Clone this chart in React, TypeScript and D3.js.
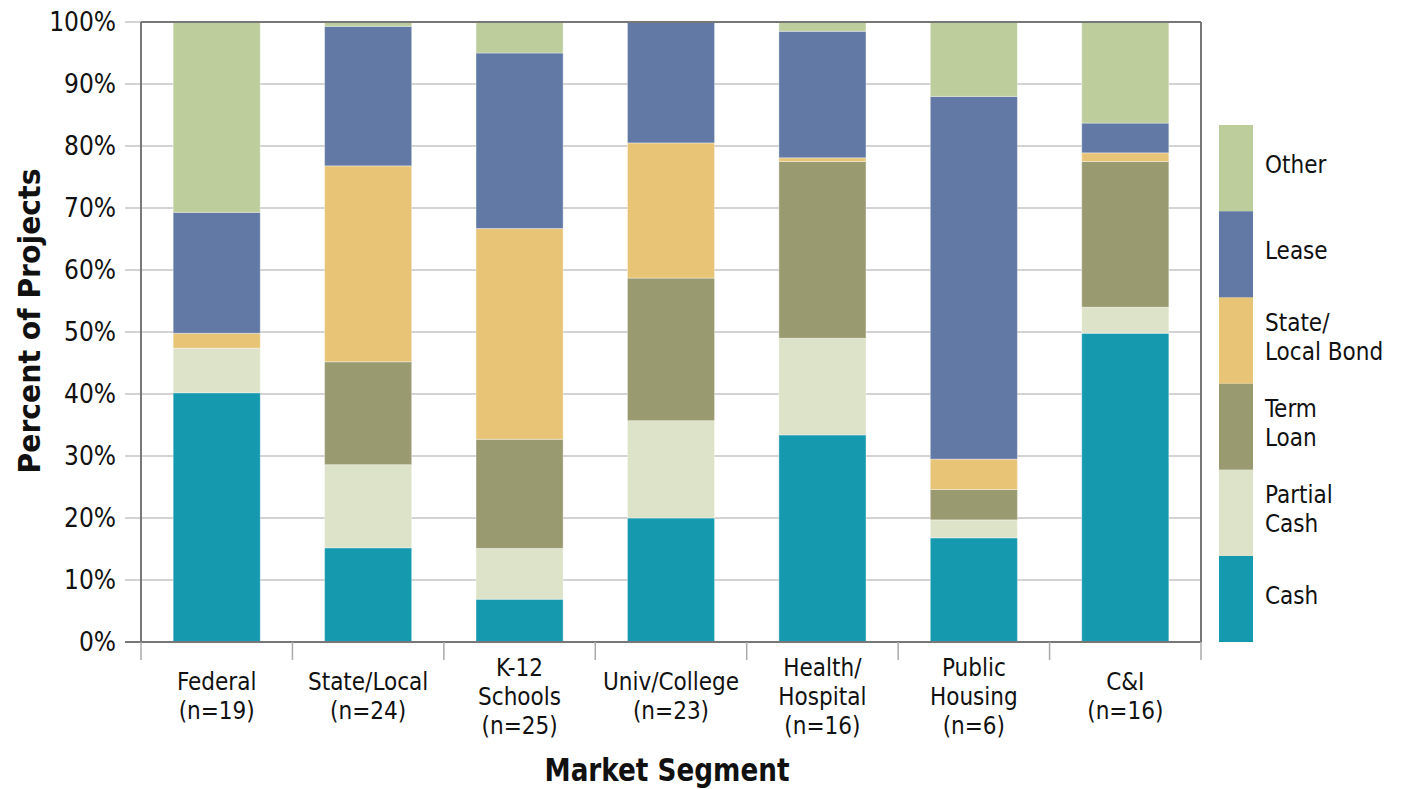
import React from "react";
import * as d3 from "d3";

const categories = ["Federal", "State/Local", "K-12 Schools", "Univ/College", "Health/ Hospital", "Public Housing", "C&I"];
const categoryLines = [
  ["Federal", "(n=19)"],
  ["State/Local", "(n=24)"],
  ["K-12", "Schools", "(n=25)"],
  ["Univ/College", "(n=23)"],
  ["Health/", "Hospital", "(n=16)"],
  ["Public", "Housing", "(n=6)"],
  ["C&I", "(n=16)"],
];
const seriesNames = ["Cash", "Partial Cash", "Term Loan", "State/Local Bond", "Lease", "Other"];
const seriesLabelLines = [["Cash"], ["Partial", "Cash"], ["Term", "Loan"], ["State/", "Local Bond"], ["Lease"], ["Other"]];
const seriesColors = ["#1599AE", "#DDE3C8", "#999A70", "#E8C477", "#6279A5", "#BDCE9C"];

const cash = [40.2, 15.2, 6.9, 20.0, 33.4, 16.8, 49.8];
const partialCash = [7.2, 13.4, 8.2, 15.7, 15.6, 2.9, 4.2];
const termLoan = [0, 16.6, 17.6, 23.0, 28.5, 4.9, 23.5];
const stateLocalBond = [2.4, 31.6, 34.0, 21.8, 0.6, 4.9, 1.4];
const lease = [19.5, 22.5, 28.3, 19.5, 20.4, 58.5, 4.8];
const other = [30.7, 0.8, 5.0, 0, 1.5, 12.0, 16.3];

const yTicks = [0, 10, 20, 30, 40, 50, 60, 70, 80, 90, 100];

const W = 1403, H = 789;
const left = 141, right = 1201, top = 22, bottom = 642;
const FONT = "'Liberation Sans Narrow', 'DejaVu Sans Condensed', 'Roboto', sans-serif";

export default function App() {
  const seriesArrays = [cash, partialCash, termLoan, stateLocalBond, lease, other];
  const rows = categories.map((c, i) => {
    const r: any = { cat: c };
    seriesNames.forEach((s, j) => (r[s] = seriesArrays[j][i]));
    return r;
  });
  const stack = d3.stack().keys(seriesNames)(rows as any);
  const x = d3.scaleBand().domain(categories).range([left, right]).paddingInner(0.425).paddingOuter(0.2125);
  const y = d3.scaleLinear().domain([0, 100]).range([bottom, top]);
  const step = x.step();
  const boundaries = d3.range(categories.length + 1).map((i) => left + i * step);

  const legX = 1219, legW = 34, legTop = 125, legBottom = 642;
  const legH = (legBottom - legTop) / seriesNames.length;

  return (
    <svg width={W} height={H} style={{ position: "absolute", left: 0, top: 0 }} fontFamily={FONT}>
      <rect width={W} height={H} fill="#fff" />
      {yTicks.map((t) => (
        <g key={t}>
          <line x1={125} x2={right} y1={y(t)} y2={y(t)} stroke="#c4c4c4" strokeWidth={1.5} />
          <text x={116} y={y(t)} dy="0.36em" textAnchor="end" fontSize={26} fill="#111">{t}%</text>
        </g>
      ))}
      {stack.map((s, j) => (
        <g key={j} fill={seriesColors[j]}>
          {s.map((d: any, i) => {
            const h = y(d[0]) - y(d[1]);
            if (h <= 0) return null;
            return (
              <rect key={i} x={x(categories[i])} width={x.bandwidth()} y={y(d[1])} height={h}
                stroke="#ffffff" strokeOpacity={0.35} strokeWidth={1} />
            );
          })}
        </g>
      ))}
      <line x1={left} x2={left} y1={top} y2={bottom} stroke="#777" strokeWidth={2} />
      <line x1={left} x2={right} y1={top} y2={top} stroke="#777" strokeWidth={2} />
      <line x1={right} x2={right} y1={top} y2={bottom} stroke="#777" strokeWidth={2} />
      <line x1={125} x2={right} y1={bottom} y2={bottom} stroke="#777" strokeWidth={2} />
      {boundaries.map((b, i) => (
        <line key={i} x1={b} x2={b} y1={bottom} y2={bottom + 18} stroke="#aaa" strokeWidth={1.5} />
      ))}
      {categoryLines.map((lines, i) => (
        <text key={i} x={(x(categories[i]) as number) + x.bandwidth() / 2} y={690 - (lines.length - 2) * 14} textAnchor="middle" fontSize={24} fill="#111">
          {lines.map((l, k) => (
            <tspan key={k} x={(x(categories[i]) as number) + x.bandwidth() / 2} dy={k === 0 ? 0 : 29}>{l}</tspan>
          ))}
        </text>
      ))}
      <text x={667} y={781} textAnchor="middle" fontSize={32} fontWeight="bold" fill="#111" textLength={245} lengthAdjust="spacingAndGlyphs">Market Segment</text>
      <text transform={`translate(40,${321}) rotate(-90)`} textAnchor="middle" fontSize={31} fontWeight="bold" fill="#111" textLength={305} lengthAdjust="spacingAndGlyphs">Percent of Projects</text>
      {seriesNames.map((s, j) => {
        const yTop = legBottom - (j + 1) * legH;
        const lines = seriesLabelLines[j];
        const cy = yTop + legH / 2 - 4;
        return (
          <g key={s}>
            <rect x={legX} y={yTop} width={legW} height={legH} fill={seriesColors[j]} />
            <text x={1265} y={cy - ((lines.length - 1) * 29) / 2} fontSize={24} fill="#111">
              {lines.map((l, k) => (
                <tspan key={k} x={1265} dy={k === 0 ? "0.36em" : 29}>{l}</tspan>
              ))}
            </text>
          </g>
        );
      })}
    </svg>
  );
}
